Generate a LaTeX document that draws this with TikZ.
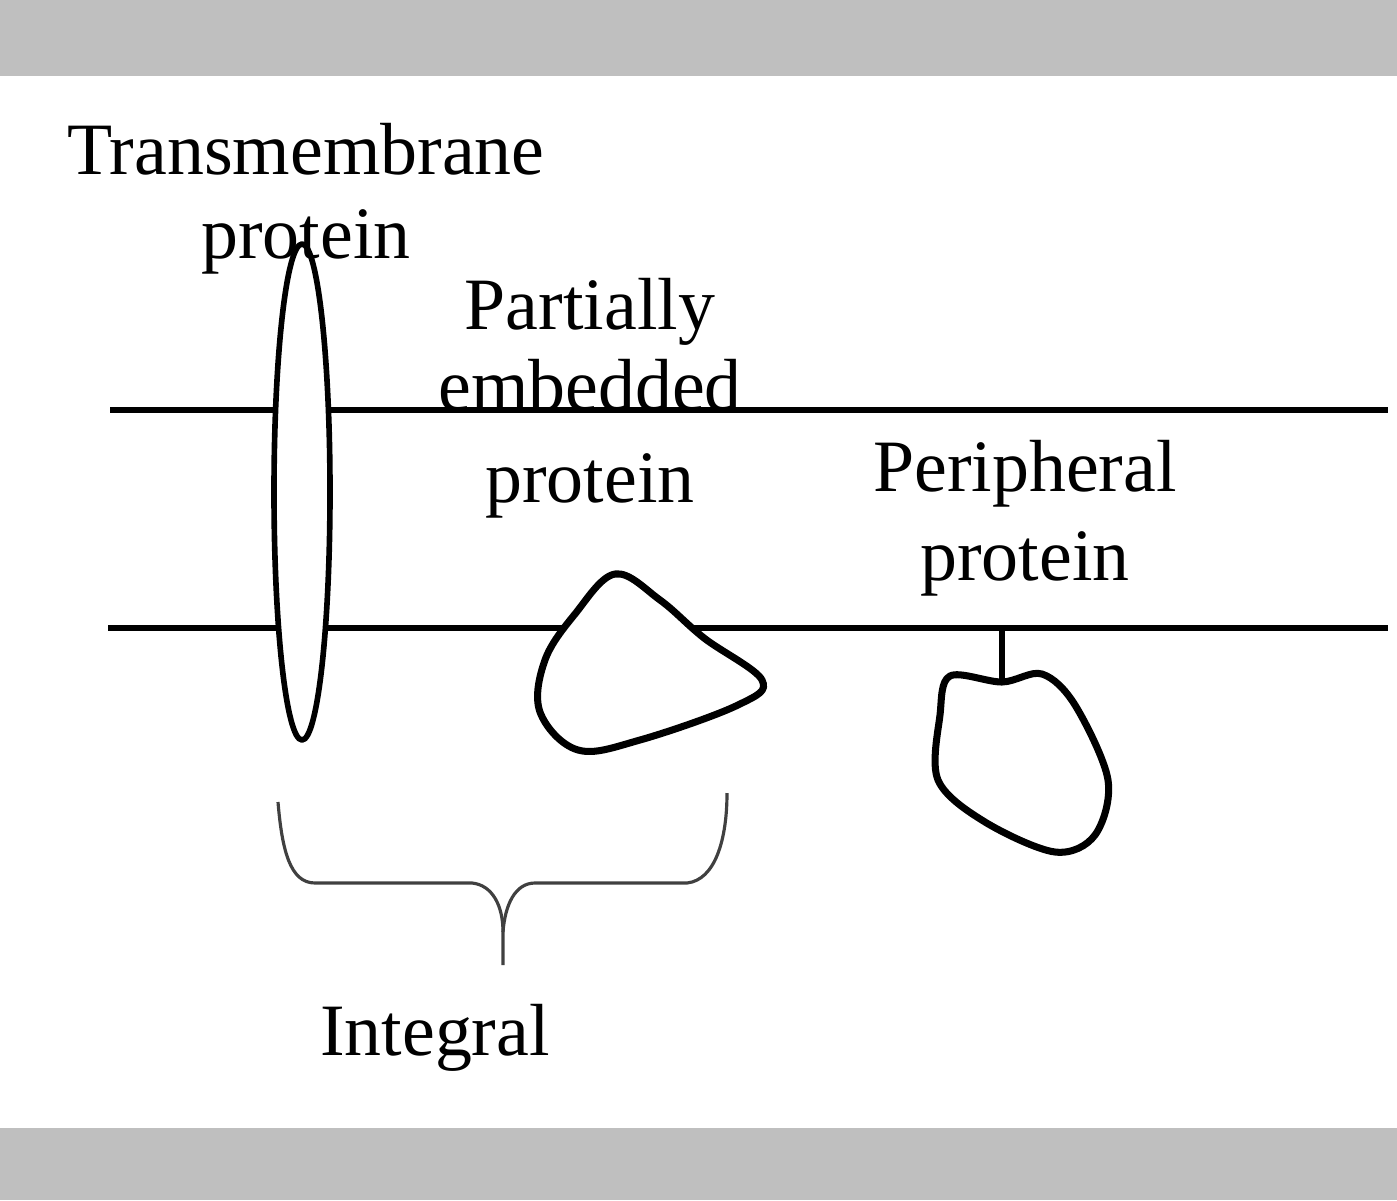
\documentclass[tikz,border=0pt]{standalone}
\usepackage{fontspec}
\setmainfont{Liberation Serif}
\usetikzlibrary{positioning, calc}

\tikzset{
  membrane/.style={line width=1.5pt},
  protein/.style={line width=2pt, line join=round},
  label/.style={font=\fontsize{21}{25}\selectfont, align=center, inner sep=0pt},
  bracket/.style={line width=0.9pt, black!75, line join=round}
}

\begin{document}
\begin{tikzpicture}[x=0.01cm, y=-0.01cm]
\useasboundingbox (0,0) rectangle (1397,1200);

% Frame bars
\fill[black!25] (0,0) rectangle (1397,76);
\fill[black!25] (0,1128) rectangle (1397,1200);

% Membrane
\draw[membrane] (110,410) -- (1388,410);
\draw[membrane] (108,628) -- (1388,628);

% Transmembrane protein
\draw[protein, line width=1.6pt, fill=white] (302,492) ellipse (28 and 248);
\node[label] (tmlabel) at (306,199) {Transmembrane\\[-0.05em]protein};

% Partially embedded protein
\draw[protein, fill=white] plot[smooth cycle, tension=0.6] coordinates
  {(615,574) (660,600) (704,638) (762,680) (738,705) (640,740) (578,750) (540,712) (545,660) (575,614)};
\node[label] (pelabel) at (590,398) {Partially\\[-0.09em]embedded\\[0.055em]protein};

% Peripheral protein
\coordinate (stemtop) at (1002,628);
\coordinate (stembot) at (1002,680);
\draw[membrane] (stemtop) -- (stembot);
\draw[protein, fill=white] plot[smooth cycle, tension=0.55] coordinates
  {(950,676) (1002,682) (1042,674) (1075,705) (1108,780) (1095,835) (1055,852) (985,822) (938,780) (940,715)};
\node[label] (pplabel) at (1025,518) {Peripheral\\[0.02em]protein};

% Integral bracket
\draw[bracket] (278,802) .. controls (282,850) and (290,883) .. (315,883)
  -- (472,883) .. controls (492,885) and (503,905) .. (503,932) -- (503,965);
\draw[bracket] (503,932) .. controls (505,905) and (515,883) .. (535,883)
  -- (687,883) .. controls (715,880) and (727,840) .. (727,793);
\node[label] (intlabel) at (435,1038) {Integral};
\end{tikzpicture}
\end{document}
